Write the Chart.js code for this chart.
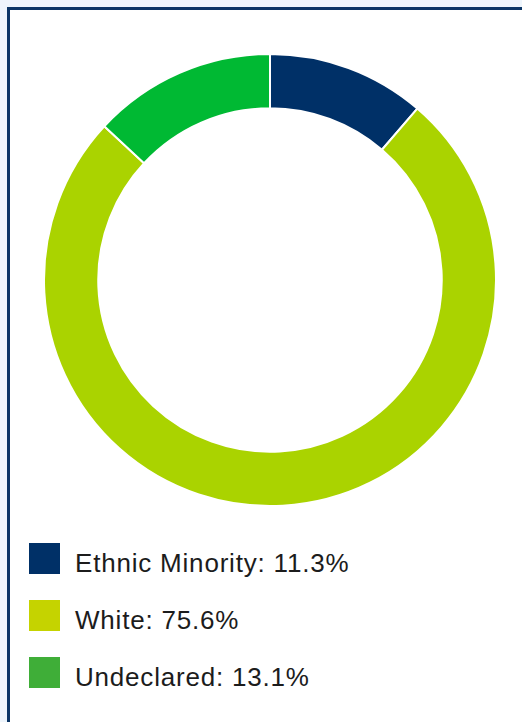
<!DOCTYPE html>
<html>
<head>
<meta charset="utf-8">
<script src="https://cdn.jsdelivr.net/npm/chart.js@4.4.1/dist/chart.umd.min.js"></script>
<style>
  html, body { margin: 0; padding: 0; background: #eef5fc; overflow: hidden; }
  body { width: 522px; height: 722px; position: relative; font-family: "Liberation Sans", Arial, sans-serif; }
  .panel {
    position: absolute; left: 7px; top: 7px; width: 620px; height: 800px;
    background: #fff; border: 3px solid #0b3566; box-sizing: border-box;
  }
  .chart-box { position: absolute; left: 43px; top: 53px; width: 454px; height: 454px; }
  #legend { position: absolute; left: 29px; top: 543px; margin: 0; padding: 0; list-style: none; }
  #legend li { display: flex; align-items: center; height: 31px; margin-bottom: 26px; }
  #legend .swatch { width: 31px; height: 31px; margin-right: 15px; flex: none; }
  #legend .txt {
    font-size: 26px; color: #1c1c1c; line-height: 31px; letter-spacing: 0.8px;
    position: relative; top: 5px; white-space: nowrap;
  }
</style>
</head>
<body>
<div class="panel"></div>
<div class="chart-box"><canvas id="donut"></canvas></div>
<ul id="legend"></ul>

<script>
  const categories = ['Ethnic Minority', 'White', 'Undeclared'];
  const shares = [11.3, 75.6, 13.1];
  const sliceColors = ['#003067', '#aad300', '#00b933'];
  const keyColors = ['#003067', '#c5d300', '#3fae38'];

  // legend list
  const legend = document.getElementById('legend');
  categories.forEach((name, i) => {
    const li = document.createElement('li');
    li.innerHTML = `<span class="swatch" style="background:${keyColors[i]}"></span>` +
      `<span class="txt">${name}: ${shares[i].toFixed(1)}%</span>`;
    legend.appendChild(li);
  });

  new Chart(document.getElementById('donut'), {
    type: 'doughnut',
    data: {
      labels: categories,
      datasets: [{
        data: shares,
        backgroundColor: sliceColors,
        borderColor: '#ffffff',
        borderWidth: 2,
      }]
    },
    options: {
      responsive: true,
      maintainAspectRatio: false,
      animation: false,
      cutout: '76%',
      layout: { padding: 0 },
      plugins: {
        legend: { display: false },
        tooltip: { enabled: false },
      }
    }
  });
</script>
</body>
</html>
